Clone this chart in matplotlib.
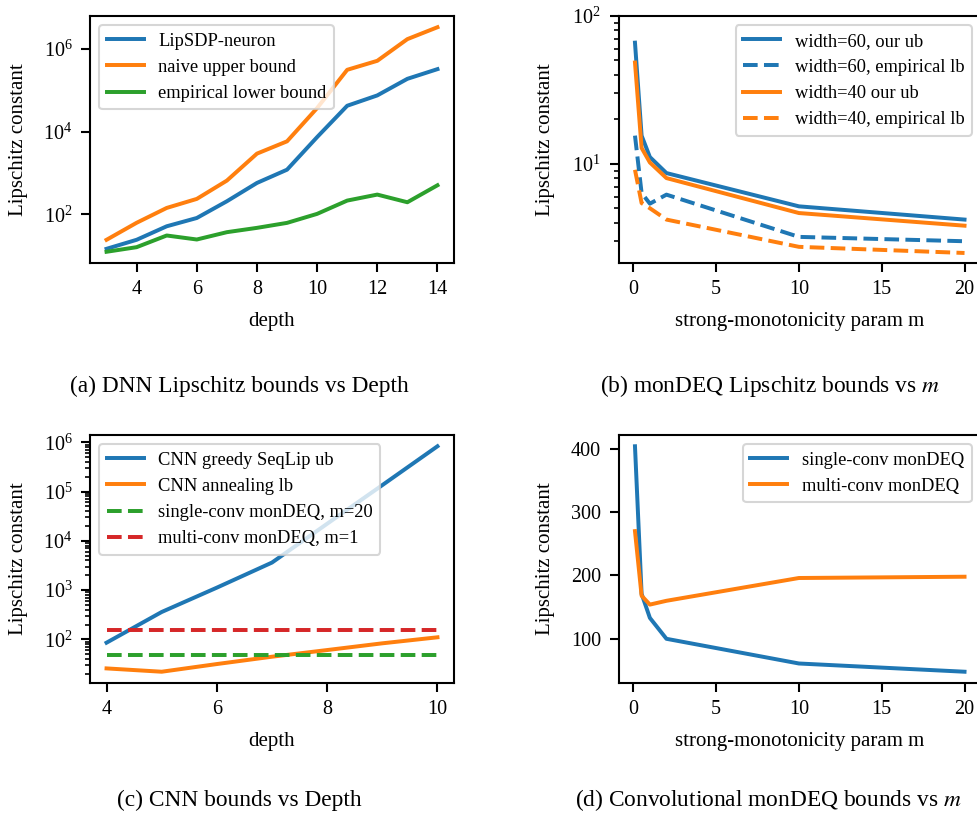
import matplotlib.pyplot as plt
from matplotlib.ticker import NullLocator, NullFormatter, FixedLocator, MultipleLocator

# (a) DNN Lipschitz bounds vs depth
depth_a = [3, 4, 5, 6, 7, 8, 9, 10, 11, 12, 13, 14]
lipsdp = [14.5, 24, 51, 81, 206, 573, 1200, 7400, 42500, 75700, 191000, 328000]
naive = [24, 62, 142, 235, 653, 2940, 5840, 37400, 316000, 522000, 1.75e6, 3.4e6]
emp_lb = [12.3, 15.9, 30.5, 24.4, 36.7, 46.7, 61.7, 102, 214, 299, 195, 503]

# (b) monDEQ Lipschitz bounds vs m
m_vals = [0.1, 0.5, 1, 2, 10, 20]
w60_ub = [66, 15.5, 11.1, 8.65, 5.15, 4.19]
w60_lb = [15.5, 6.34, 5.37, 6.18, 3.2, 2.99]
w40_ub = [48.4, 12.8, 10.2, 8.0, 4.64, 3.81]
w40_lb = [9.1, 5.42, 5.0, 4.19, 2.74, 2.49]

# (c) CNN bounds vs depth
depth_c = [4, 5, 6, 7, 8, 9, 10]
seqlip_ub = [85.5, 359, 1120, 3620, 22200, 135000, 830000]
anneal_lb = [25.7, 22, 31.5, 44.4, 60.6, 83, 110]
single_conv_m20 = 48
multi_conv_m1 = 155

# (d) convolutional monDEQ bounds vs m
single_conv = [404, 171, 133, 100, 61, 48]
multi_conv = [270, 168, 154, 160, 196, 198]

plt.rcParams['font.family'] = ['Liberation Serif', 'DejaVu Serif']
plt.rcParams['mathtext.fontset'] = 'stix'
plt.rcParams['lines.linewidth'] = 2.85
plt.rcParams['axes.linewidth'] = 1.5
for a in ['xtick', 'ytick']:
    plt.rcParams[a + '.major.size'] = 6.6
    plt.rcParams[a + '.major.width'] = 1.5
    plt.rcParams[a + '.minor.size'] = 3.8
    plt.rcParams[a + '.minor.width'] = 1.2
    plt.rcParams[a + '.major.pad'] = 6.0
    plt.rcParams[a + '.labelsize'] = 14.5
plt.rcParams['axes.labelsize'] = 15
plt.rcParams['legend.fontsize'] = 13.3
plt.rcParams['legend.edgecolor'] = '0.8'

W, H = 977, 815
fig = plt.figure(figsize=(W / 100, H / 100), dpi=100)


def ax_at(l, t, r, b):
    return fig.add_axes([l / W, 1 - b / H, (r - l) / W, (b - t) / H])


axA = ax_at(90, 16, 454, 263)
axB = ax_at(618.5, 16, 981, 263)
axC = ax_at(90, 435, 454, 683)
axD = ax_at(618.5, 435, 981, 683)

# (a)
axA.plot(depth_a, lipsdp, label='LipSDP-neuron')
axA.plot(depth_a, naive, label='naive upper bound')
axA.plot(depth_a, emp_lb, label='empirical lower bound')
axA.set_yscale('log')
axA.xaxis.set_major_locator(MultipleLocator(2))
axA.yaxis.set_major_locator(FixedLocator([1e2, 1e4, 1e6]))
axA.yaxis.set_minor_locator(NullLocator())
axA.set_xlabel('depth')
axA.set_ylabel('Lipschitz constant')
axA.legend(loc='upper left').get_frame().set_linewidth(1.5)

# (b)
axB.plot(m_vals, w60_ub, color='C0', label='width=60, our ub')
axB.plot(m_vals, w60_lb, '--', color='C0', label='width=60, empirical lb')
axB.plot(m_vals, w40_ub, color='C1', label='width=40 our ub')
axB.plot(m_vals, w40_lb, '--', color='C1', label='width=40, empirical lb')
axB.set_yscale('log')
axB.set_ylim(2.13, 100)
axB.yaxis.set_minor_formatter(NullFormatter())
axB.set_xlabel('strong-monotonicity param m')
axB.set_ylabel('Lipschitz constant')
axB.legend(loc='upper right').get_frame().set_linewidth(1.5)

# (c)
axC.plot(depth_c, seqlip_ub, color='C0', label='CNN greedy SeqLip ub')
axC.plot(depth_c, anneal_lb, color='C1', label='CNN annealing lb')
axC.plot(depth_c, [single_conv_m20] * len(depth_c), '--', color='C2',
         label='single-conv monDEQ, m=20')
axC.plot(depth_c, [multi_conv_m1] * len(depth_c), '--', color='C3',
         label='multi-conv monDEQ, m=1')
axC.set_yscale('log')
axC.yaxis.set_minor_formatter(NullFormatter())
axC.set_xlabel('depth')
axC.set_ylabel('Lipschitz constant')
axC.legend(loc='upper left').get_frame().set_linewidth(1.5)

# (d)
axD.plot(m_vals, single_conv, label='single-conv monDEQ')
axD.plot(m_vals, multi_conv, label='multi-conv monDEQ')
axD.set_xlabel('strong-monotonicity param m')
axD.set_ylabel('Lipschitz constant')
axD.legend(loc='upper right').get_frame().set_linewidth(1.5)

for ax in [axA, axB, axC, axD]:
    ax.xaxis.set_label_coords(0.5, -0.197)
axA.yaxis.set_label_coords((28 - 90) / 364, 0.5)
axC.yaxis.set_label_coords((28 - 90) / 364, 0.5)
axB.yaxis.set_label_coords((555 - 618.5) / 362.5, 0.5)
axD.yaxis.set_label_coords((555 - 618.5) / 362.5, 0.5)

caps = [(239, 386, '(a) DNN Lipschitz bounds vs Depth'),
        (770, 386, '(b) monDEQ Lipschitz bounds vs $m$'),
        (239, 800, '(c) CNN bounds vs Depth'),
        (768, 800, '(d) Convolutional monDEQ bounds vs $m$')]
for x, y, t in caps:
    fig.text(x / W, 1 - y / H, t, ha='center', va='center', fontsize=16.8)

fig.savefig('out.png', dpi=100)
